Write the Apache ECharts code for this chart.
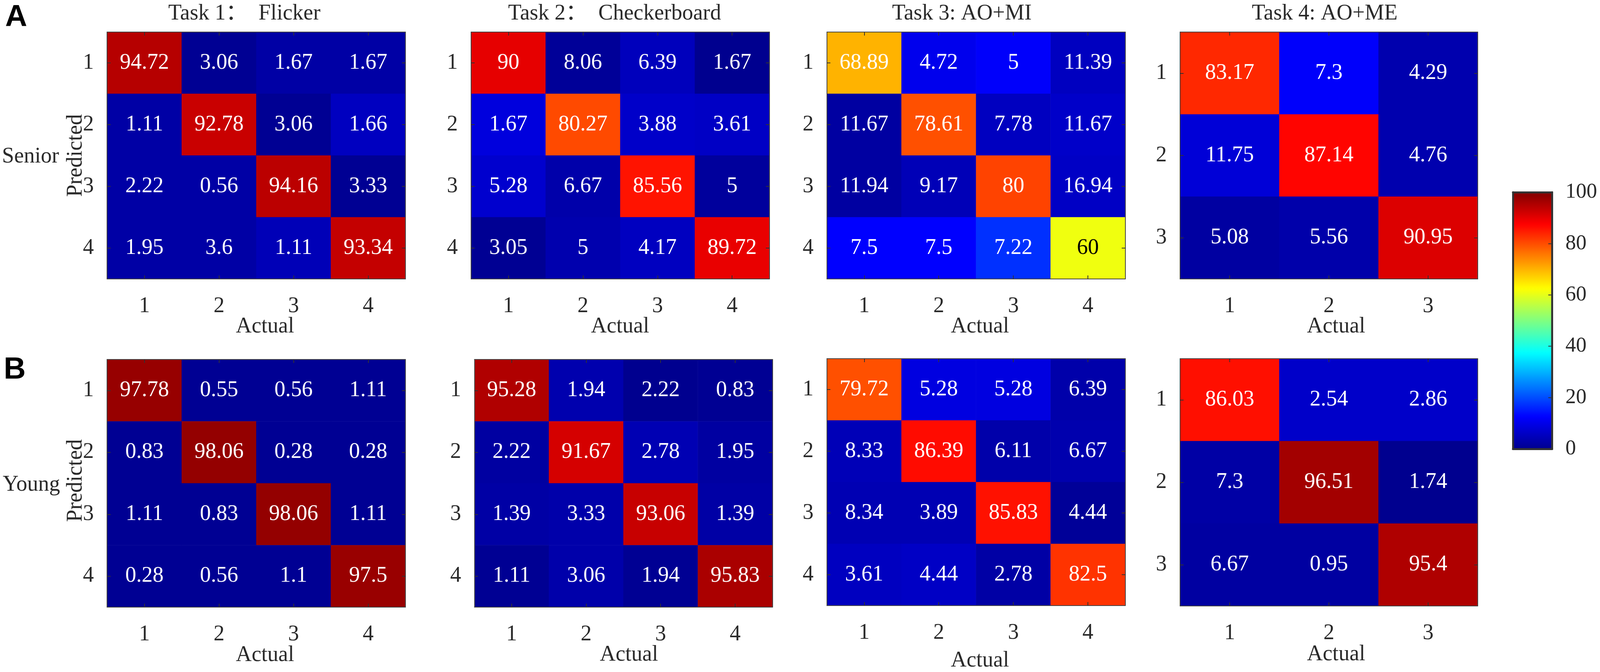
<!DOCTYPE html>
<html>
<head>
<meta charset="utf-8">
<style>html,body{margin:0;padding:0;background:#fff;overflow:hidden}#c{width:100vw;height:1720px}</style>
<script src="https://cdn.jsdelivr.net/npm/echarts@6/dist/echarts.min.js"></script>
</head>
<body>
<div id="c"></div>
<script>
// ---------- data: printed percentages ----------
const seniorTask1 = [[94.72,3.06,1.67,1.67],[1.11,92.78,3.06,1.66],[2.22,0.56,94.16,3.33],[1.95,3.6,1.11,93.34]];
const seniorTask2 = [[90,8.06,6.39,1.67],[1.67,80.27,3.88,3.61],[5.28,6.67,85.56,5],[3.05,5,4.17,89.72]];
const seniorTask3 = [[68.89,4.72,5,11.39],[11.67,78.61,7.78,11.67],[11.94,9.17,80,16.94],[7.5,7.5,7.22,60]];
const seniorTask4 = [[83.17,7.3,4.29],[11.75,87.14,4.76],[5.08,5.56,90.95]];
const youngTask1 = [[97.78,0.55,0.56,1.11],[0.83,98.06,0.28,0.28],[1.11,0.83,98.06,1.11],[0.28,0.56,1.1,97.5]];
const youngTask2 = [[95.28,1.94,2.22,0.83],[2.22,91.67,2.78,1.95],[1.39,3.33,93.06,1.39],[1.11,3.06,1.94,95.83]];
const youngTask3 = [[79.72,5.28,5.28,6.39],[8.33,86.39,6.11,6.67],[8.34,3.89,85.83,4.44],[3.61,4.44,2.78,82.5]];
const youngTask4 = [[86.03,2.54,2.86],[7.3,96.51,1.74],[6.67,0.95,95.4]];

// ---------- data: cell colour read on the colour bar scale (differs from the printed number) ----------
const seniorShade1 = [[94.7,0.5,2.5,2.5],[2.5,92.8,0.5,5.5],[2.5,2.5,94.2,0.5],[2.5,2.5,4.5,93.3]];
const seniorShade2 = [[90,1,5,0],[8.7,80.3,6.5,6],[7,3,85.6,1.5],[0.5,3.5,5.5,89.7]];
const seniorShade3 = [[70,10.5,12,5.5],[2,79.7,5.5,6.5],[2,4.5,81,6],[12.5,12.5,17.2,61]];
const seniorShade4 = [[83.6,12,3.5],[8,87.14,3.5],[2,3,90.95]];
const youngShade1 = [[97.78,0.5,0.5,0.5],[0.5,98.06,0.5,0.5],[0.5,0.5,98.06,0.5],[0.5,0.5,0.5,97.5]];
const youngShade2 = [[95.28,3.5,0,0.5],[2,91.67,4,2],[2.5,3,93.06,2.5],[0.5,3,0.5,95.83]];
const youngShade3 = [[79.72,9,9,3],[4.5,86.39,3,3.5],[4,4,85.83,1],[5.5,6,2.5,82.5]];
const youngShade4 = [[86.03,6.5,6.5],[2.5,96.51,0],[2,2,95.4]];

const ticks4 = ['1','2','3','4'];
const ticks3 = ['1','2','3'];
const taskTitles = ['Task 1\uFF1A  Flicker','Task 2\uFF1A  Checkerboard','Task 3: AO+MI','Task 4: AO+ME'];
const groupNames = ['Senior','Young'];
const panelLetters = ['A','B'];
const jetStops = ['#00008f','#0000ff','#0080ff','#00ffff','#80ff80','#ffff00','#ff8000','#ff0000','#800000'];
const barTicks = [0,20,40,60,80,100];

// ---------- layout (reference is 4317 wide; fit it to the real window width) ----------
const sx = window.innerWidth/4317;
const serif = '"Liberation Serif","Noto Sans CJK SC",serif';
const ink = '#2a2a2a';
const FS = 56;
const panels = [
  {v:seniorTask1,s:seniorShade1,x0:289, x1:1094,y0:82, y1:714, ax:715, ay:836},
  {v:seniorTask2,s:seniorShade2,x0:1271,x1:2076,y0:82, y1:714, ax:1673,ay:836},
  {v:seniorTask3,s:seniorShade3,x0:2231,x1:3036,y0:82, y1:714, ax:2644,ay:836},
  {v:seniorTask4,s:seniorShade4,x0:3184,x1:3987,y0:82, y1:714, ax:3605,ay:836},
  {v:youngTask1, s:youngShade1, x0:289, x1:1094,y0:920,y1:1554,ax:715, ay:1677},
  {v:youngTask2, s:youngShade2, x0:1280,x1:2084,y0:920,y1:1554,ax:1697,ay:1676},
  {v:youngTask3, s:youngShade3, x0:2231,x1:3036,y0:918,y1:1553,ax:2644,ay:1694},
  {v:youngTask4, s:youngShade4, x0:3184,x1:3987,y0:918,y1:1551,ax:3605,ay:1675}
];
const titleCentres = [654,1653,2590,3569];
const bar = {x0:4082,x1:4188,y0:492,y1:1149};

const grids=[],xAxes=[],yAxes=[],series=[];
const spine = {show:true,lineStyle:{color:'#444',width:2}};
const tickIn = {show:true,inside:true,length:9,alignWithLabel:true,lineStyle:{color:'#333',width:2}};
panels.forEach((p,i)=>{
  const cats = p.v.length===4 ? ticks4 : ticks3;
  grids.push({left:p.x0*sx,top:p.y0,width:(p.x1-p.x0)*sx,height:p.y1-p.y0,containLabel:false});
  const gi = grids.length-1;
  const dx = (p.ax-(p.x0+p.x1)/2)*sx;
  const base = xAxes.length;
  xAxes.push({gridIndex:gi,type:'category',data:cats,position:'bottom',z:5,
    axisLine:spine,axisTick:tickIn,splitLine:{show:false},
    axisLabel:{show:true,fontFamily:serif,fontSize:FS,color:ink,margin:42},
    name:'Actual',nameLocation:'middle',nameGap:p.ay-p.y1-28,nameMoveOverlap:false,
    nameTextStyle:{fontFamily:serif,fontSize:FS,color:ink,padding:[0,0,0,2*dx]}});
  xAxes.push({gridIndex:gi,type:'category',data:cats,position:'top',z:5,
    axisLine:spine,axisTick:tickIn,axisLabel:{show:false},splitLine:{show:false}});
  const yBase = yAxes.length;
  const left = {gridIndex:gi,type:'category',data:cats,inverse:true,position:'left',z:5,
    axisLine:spine,axisTick:tickIn,splitLine:{show:false},
    axisLabel:{show:true,fontFamily:serif,fontSize:FS,color:ink,margin:34}};
  if(i%4===0){
    left.name='Predicted';left.nameLocation='middle';left.nameGap=52;left.nameMoveOverlap=false;
    left.nameTextStyle={fontFamily:serif,fontSize:FS,color:ink,padding:i===4?[0,0,0,14]:0};
  }
  yAxes.push(left);
  yAxes.push({gridIndex:gi,type:'category',data:cats,inverse:true,position:'right',z:5,
    axisLine:spine,axisTick:tickIn,axisLabel:{show:false},splitLine:{show:false}});
  const data=[];
  p.v.forEach((row,r)=>row.forEach((val,c)=>{
    const item={value:[c,r,p.s[r][c],val]};
    if(val===60) item.label={color:'#000'};
    data.push(item);
  }));
  series.push({type:'heatmap',xAxisIndex:base,yAxisIndex:yBase,data:data,
    encode:{x:0,y:1},
    label:{show:true,fontFamily:serif,fontSize:FS,color:'#fff',formatter:q=>String(q.value[3])},
    itemStyle:{borderWidth:0},emphasis:{disabled:true}});
});

// colour bar axes: the bar itself is the visualMap
grids.push({left:bar.x0*sx,top:bar.y0,width:(bar.x1-bar.x0)*sx,height:bar.y1-bar.y0,containLabel:false});
const bg=grids.length-1;
const barLine={show:true,onZero:false,lineStyle:{color:'#333',width:5}};
xAxes.push({gridIndex:bg,type:'value',min:0,max:1,position:'bottom',z:10,axisLine:barLine,axisTick:{show:false},axisLabel:{show:false},splitLine:{show:false}});
xAxes.push({gridIndex:bg,type:'value',min:0,max:1,position:'top',z:10,axisLine:barLine,axisTick:{show:false},axisLabel:{show:false},splitLine:{show:false}});
yAxes.push({gridIndex:bg,type:'value',min:barTicks[0],max:barTicks[barTicks.length-1],interval:20,position:'right',z:10,axisLine:barLine,
  axisTick:{show:true,inside:true,length:10,lineStyle:{color:'#333',width:2}},splitLine:{show:false},
  axisLabel:{show:true,fontFamily:serif,fontSize:54,color:ink,margin:34,padding:[16,0,0,0]}});
yAxes.push({gridIndex:bg,type:'value',min:barTicks[0],max:barTicks[barTicks.length-1],interval:20,position:'left',z:10,axisLine:barLine,axisTick:{show:false},axisLabel:{show:false},splitLine:{show:false}});

const titles=[];
taskTitles.forEach((t,i)=>titles.push({text:t,left:titleCentres[i]*sx,top:0,textAlign:'center',textStyle:{fontFamily:serif,fontSize:FS,fontWeight:'normal',color:ink,lineHeight:60}}));
titles.push({text:groupNames[0],left:0,top:368,textStyle:{fontFamily:serif,fontSize:FS,fontWeight:'normal',color:ink}});
titles.push({text:groupNames[1],left:2,top:1208,textStyle:{fontFamily:serif,fontSize:FS,fontWeight:'normal',color:ink}});
titles.push({text:panelLetters[0],left:14*sx,top:6,padding:0,textStyle:{fontFamily:'"Liberation Sans",sans-serif',fontSize:78,fontWeight:'bold',color:'#000'}});
titles.push({text:panelLetters[1],left:10*sx,top:908,padding:0,textStyle:{fontFamily:'"Liberation Sans",sans-serif',fontSize:78,fontWeight:'bold',color:'#000'}});

const chart=echarts.init(document.getElementById('c'));
chart.setOption({
  animation:false,backgroundColor:'#fff',
  title:titles,grid:grids,xAxis:xAxes,yAxis:yAxes,series:series,
  visualMap:[{type:'continuous',min:0,max:100,dimension:2,seriesIndex:series.map((_,i)=>i),
    left:bar.x0*sx,top:bar.y0,itemWidth:(bar.x1-bar.x0)*sx,itemHeight:bar.y1-bar.y0,padding:0,
    calculable:false,realtime:false,hoverLink:false,text:null,showLabel:false,
    textStyle:{fontSize:0},inRange:{color:jetStops}}]
});
</script>
</body>
</html>
